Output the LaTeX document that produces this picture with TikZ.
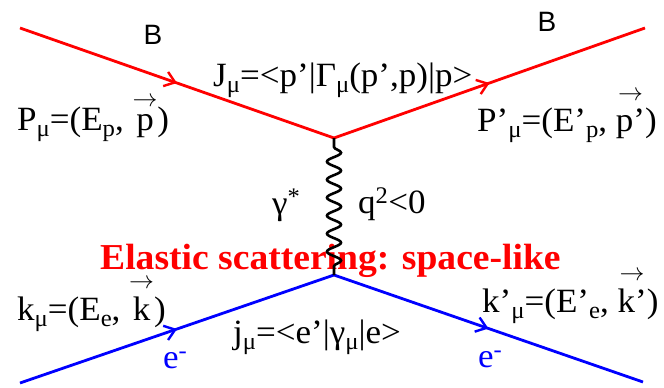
\documentclass[tikz,border=0pt]{standalone}
\usepackage{amsmath}
\usepackage{fontspec}
\setmainfont[FakeStretch=1.03]{Liberation Serif}
\newfontfamily\labsans{Liberation Sans}
\usetikzlibrary{arrows.meta,decorations.markings,decorations.pathmorphing}
\newcommand\varr[1]{$\overset{\raisebox{3pt}{$\rightarrow$}}{\text{#1}}$}
\newcommand\sub[1]{\raisebox{-6pt}{\fontsize{24}{24}\selectfont #1}}
\begin{document}
\begin{tikzpicture}[x=1pt,y=-1pt,
  lbl/.style={anchor=base west, inner sep=0pt, font=\fontsize{34}{40}\selectfont},
  fermion/.style={line width=2.8pt, postaction={decorate},
    decoration={markings, mark=at position 0.5 with {\arrow{Straight Barb[length=10pt,width=15pt,line width=2.4pt]}}}},
  photon/.style={line width=2.6pt, decorate,
    decoration={snake, amplitude=7pt, segment length=18pt, pre length=9pt, post length=4pt}}
]
\useasboundingbox (0,0) rectangle (664,388);
% vertices and ends
\coordinate (pin) at (20,28);
\coordinate (vp) at (334,138);
\coordinate (pout) at (645,28);
\coordinate (ein) at (20,383);
\coordinate (ve) at (334,275);
\coordinate (eout) at (643,382);
% lines
\draw[fermion, red] (pin) -- (vp);
\draw[fermion, red] (vp) -- (pout);
\draw[fermion, blue] (ein) -- (ve);
\draw[fermion, blue] (ve) -- (eout);
% labels
\node[anchor=center, font=\labsans\fontsize{28}{32}\selectfont] (bl) at (153,35) {B};
\node[anchor=center, font=\labsans\fontsize{28}{32}\selectfont] (br) at (547,22) {B};
\node[lbl] (J) at (213,86) {J\sub{μ}=<p’|Γ\sub{μ}(p’,p)|p>};
\node[lbl] (P) at (17,130) {P\sub{μ}=(E\sub{p}, \varr{p})};
\node[lbl] (Pp) at (477,131) {P’\sub{μ}=(E’\sub{p}, \varr{p’})};
\node[lbl] (g) at (272,214) {γ\textsuperscript{*}};
\node[lbl] (q) at (358,213) {q\textsuperscript{2}<0};
\node[anchor=base west, inner sep=0pt, text=red, font=\bfseries\fontsize{36.5}{42}\selectfont] (el) at (100,269) {Elastic scattering: space-like};
\node[lbl] (k) at (17,320) {k\sub{μ}=(E\sub{e}, \varr{k})};
\node[lbl] (kp) at (482,312) {k’\sub{μ}=(E’\sub{e}, \varr{k’})};
\node[lbl] (j) at (233,343) {j\sub{μ}=<e’|γ\sub{μ}|e>};
\node[lbl, text=blue] (e1) at (163,368) {e\textsuperscript{-}};
\node[lbl, text=blue] (e2) at (478,367) {e\textsuperscript{-}};
% photon
\draw[photon] (vp) -- (ve);
\end{tikzpicture}
\end{document}
